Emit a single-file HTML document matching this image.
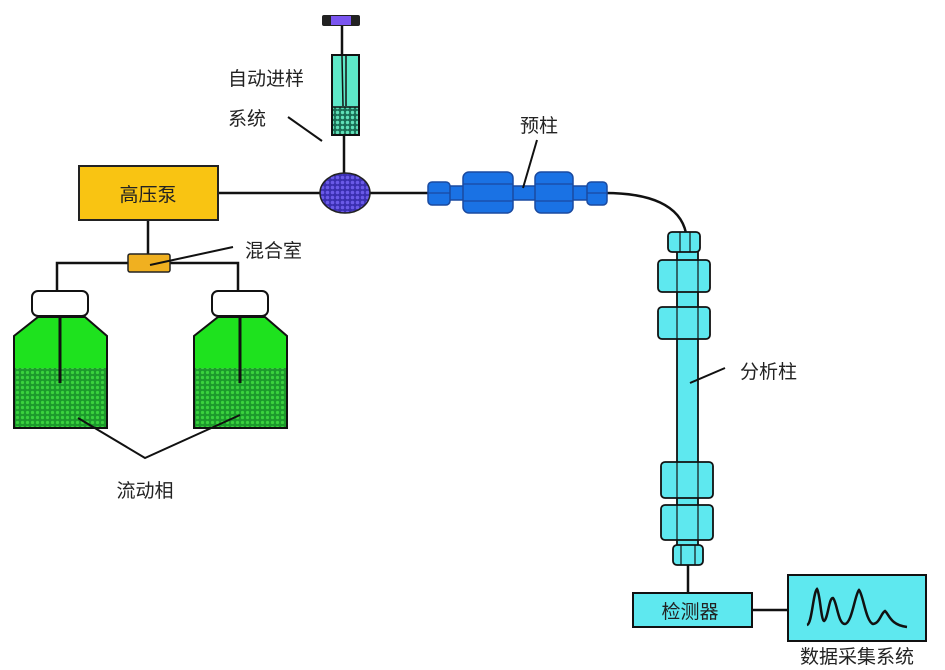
<!DOCTYPE html>
<html><head><meta charset="utf-8"><style>
html,body{margin:0;padding:0;background:#fff;}
svg{display:block;}
text{font-family:"Liberation Sans","Noto Sans CJK SC",sans-serif;fill:#222;}
</style></head><body>
<svg width="945" height="670" viewBox="0 0 945 670" xmlns="http://www.w3.org/2000/svg">
<defs>
<pattern id="mesh" width="5" height="5" patternUnits="userSpaceOnUse">
<rect width="5" height="5" fill="#1c9a2c"/><circle cx="2.5" cy="2.5" r="1.6" fill="#3ad23e"/>
</pattern>
<pattern id="meshT" width="5" height="5" patternUnits="userSpaceOnUse">
<rect width="5" height="5" fill="#1a6e55"/><circle cx="2.5" cy="2.5" r="1.7" fill="#5fe0b8"/>
</pattern>
<pattern id="meshP" width="5" height="5" patternUnits="userSpaceOnUse">
<rect width="5" height="5" fill="#3a2fb0"/><circle cx="2.5" cy="2.5" r="1.8" fill="#6a5ae8"/>
</pattern>
</defs>
<g stroke="#111" stroke-width="2.5" fill="none">
<!-- syringe -->
<line x1="342" y1="26" x2="342" y2="55"/>
<line x1="344" y1="135" x2="344" y2="175"/>
<line x1="218" y1="193" x2="322" y2="193"/>
<line x1="368" y1="193" x2="430" y2="193"/>
<line x1="148" y1="220" x2="148" y2="256"/>
<polyline points="57,292 57,263 238,263 238,292"/>
<path d="M605,193 C650,193 680,205 686,233"/>
<line x1="688" y1="563" x2="688" y2="594"/>
<line x1="752" y1="610" x2="788" y2="610"/>
</g>
<rect x="322" y="15" width="38" height="11" rx="2" fill="#222"/>
<rect x="331" y="16" width="20" height="9" fill="#7a55f0"/>
<rect x="332" y="55" width="27" height="80" fill="#5ee8c8" stroke="#111" stroke-width="2"/>
<rect x="333" y="107" width="25" height="27" fill="url(#meshT)"/>
<line x1="332" y1="107" x2="359" y2="107" stroke="#111" stroke-width="1.5"/>
<line x1="342" y1="56" x2="343" y2="106" stroke="#111" stroke-width="1.5"/>
<line x1="346" y1="56" x2="346" y2="106" stroke="#111" stroke-width="1.5"/>
<ellipse cx="345" cy="193" rx="25" ry="20" fill="url(#meshP)" stroke="#222" stroke-width="1.5"/>
<line x1="288" y1="117" x2="322" y2="141" stroke="#111" stroke-width="2"/>
<text x="228" y="85" font-size="19">自动进样</text>
<text x="228" y="125" font-size="19">系统</text>
<!-- pump -->
<rect x="79" y="166" width="139" height="54" fill="#f9c412" stroke="#222" stroke-width="2"/>
<text x="148" y="201" font-size="19" text-anchor="middle">高压泵</text>
<rect x="128" y="254" width="42" height="18" rx="2" fill="#f0b020" stroke="#222" stroke-width="1.5"/>
<line x1="150" y1="265" x2="233" y2="247" stroke="#111" stroke-width="2"/>
<text x="245" y="257" font-size="19">混合室</text>
<!-- bottles -->
<g id="b1">
<rect x="32" y="291" width="56" height="25" rx="6" fill="#fff" stroke="#111" stroke-width="2"/>
<path d="M38,317 L85,317 L107,336 L107,428 L14,428 L14,336 Z" fill="#1ee21e" stroke="#111" stroke-width="2"/>
<rect x="15" y="368" width="91" height="59" fill="url(#mesh)"/>
<line x1="60" y1="316" x2="60" y2="383" stroke="#111" stroke-width="3"/>
</g>
<use href="#b1" transform="translate(180,0)"/>
<polyline points="78,418 145,458 240,415" stroke="#111" stroke-width="2" fill="none"/>
<text x="145" y="497" font-size="19" text-anchor="middle">流动相</text>
<!-- precolumn -->
<g fill="#1a72e4" stroke="#1a4aa0" stroke-width="1.5">
<rect x="448" y="186" width="90" height="14"/>
<rect x="570" y="186" width="20" height="14"/>
<rect x="428" y="182" width="22" height="23" rx="4"/>
<rect x="463" y="172" width="50" height="41" rx="6"/>
<rect x="535" y="172" width="38" height="41" rx="6"/>
<rect x="587" y="182" width="20" height="23" rx="4"/>
</g>
<g stroke="#1a4aa0" stroke-width="1.2">
<line x1="428" y1="193" x2="450" y2="193"/><line x1="463" y1="184" x2="513" y2="184"/><line x1="463" y1="201" x2="513" y2="201"/>
<line x1="535" y1="184" x2="573" y2="184"/><line x1="535" y1="201" x2="573" y2="201"/><line x1="587" y1="193" x2="607" y2="193"/>
</g>
<line x1="537" y1="140" x2="523" y2="188" stroke="#111" stroke-width="2"/>
<text x="520" y="132" font-size="19">预柱</text>
<!-- analytical column -->
<g fill="#5ee8ef" stroke="#111" stroke-width="1.8">
<rect x="677" y="250" width="21" height="300"/>
<rect x="668" y="232" width="32" height="20" rx="4"/>
<rect x="658" y="260" width="52" height="32" rx="4"/>
<rect x="658" y="307" width="52" height="32" rx="4"/>
<rect x="661" y="462" width="52" height="36" rx="4"/>
<rect x="661" y="505" width="52" height="35" rx="4"/>
<rect x="673" y="545" width="30" height="20" rx="4"/>
</g>
<g stroke="#111" stroke-width="1.2">
<line x1="677" y1="260" x2="677" y2="339"/><line x1="698" y1="260" x2="698" y2="339"/>
<line x1="677" y1="462" x2="677" y2="540"/><line x1="698" y1="462" x2="698" y2="540"/>
<line x1="680" y1="232" x2="680" y2="252"/><line x1="690" y1="232" x2="690" y2="252"/>
<line x1="681" y1="545" x2="681" y2="565"/><line x1="695" y1="545" x2="695" y2="565"/>
</g>
<line x1="690" y1="383" x2="725" y2="368" stroke="#111" stroke-width="2"/>
<text x="740" y="378" font-size="19">分析柱</text>
<!-- detector -->
<rect x="633" y="593" width="119" height="34" fill="#5ee8ef" stroke="#111" stroke-width="2"/>
<text x="690" y="618" font-size="19" text-anchor="middle">检测器</text>
<rect x="788" y="575" width="138" height="66" fill="#5ee8ef" stroke="#111" stroke-width="2"/>
<path d="M807,625 C812,624 813,593 817,589 C820,593 821,620 824,621 C828,619 829,597 833,598 C837,602 838,624 845,624 C852,623 855,594 859,590 C863,594 866,622 873,624 C880,623 881,613 885,611 C889,614 890,625 907,627" fill="none" stroke="#111" stroke-width="2.5"/>
<text x="857" y="663" font-size="19" text-anchor="middle">数据采集系统</text>
</svg>
</body></html>
